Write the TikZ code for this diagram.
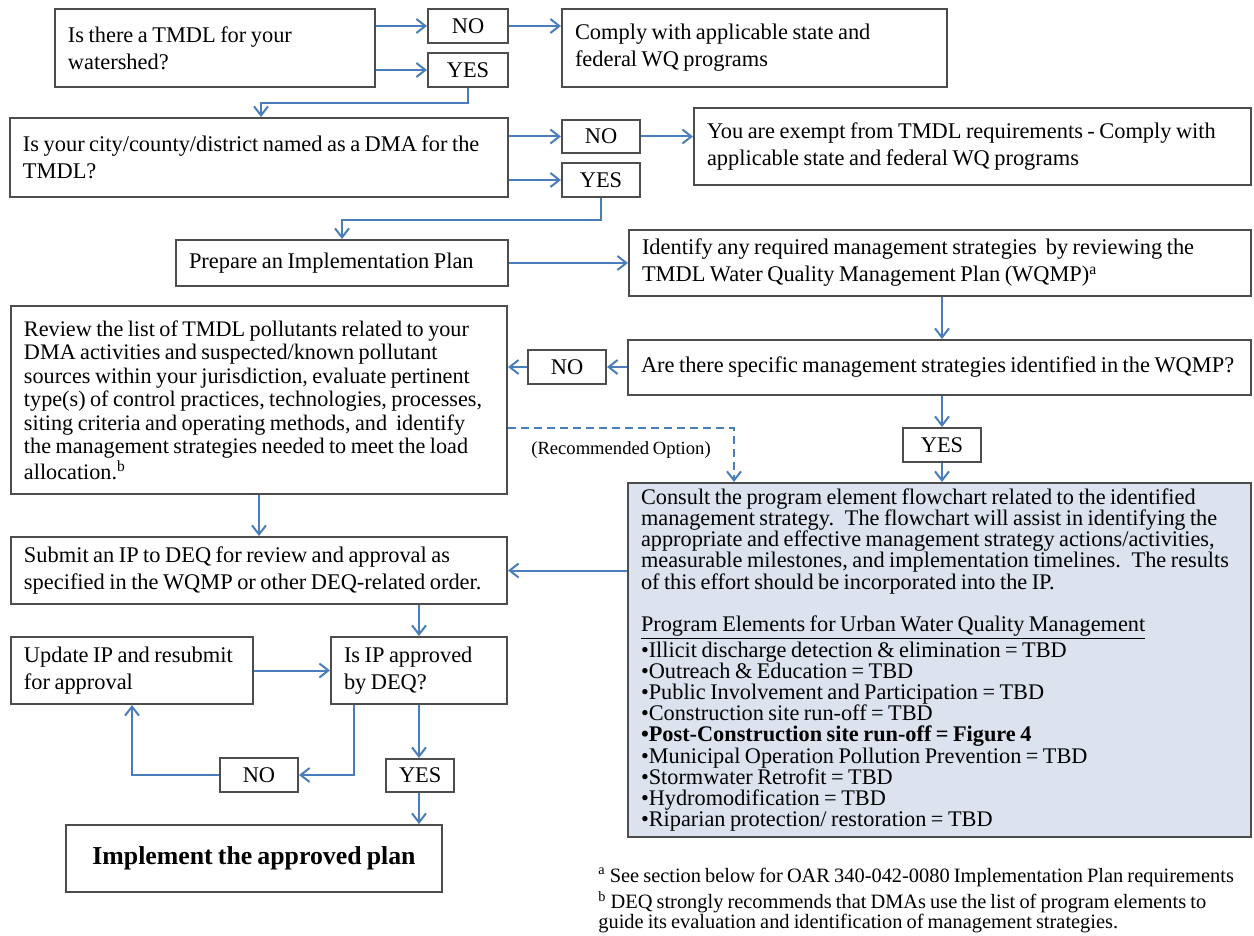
\documentclass[tikz,border=0pt]{standalone}
\usepackage{fontspec}
\setmainfont{Liberation Serif}[WordSpace=0.8]
\usetikzlibrary{arrows.meta}
\definecolor{arrowblue}{HTML}{4A7EBB}
\definecolor{boxgray}{HTML}{4D4D4D}
\definecolor{consultfill}{HTML}{DCE3EE}
\tikzset{
 fcbox/.style={draw=boxgray, line width=1pt, fill=white, inner xsep=6.5pt, inner ysep=0pt, align=flush left, font=\fontsize{11.2}{13.5}\selectfont},
 fctag/.style={align=flush center},
 fcarrow/.style={draw=arrowblue, line width=1pt, -{Straight Barb[length=4.5pt,width=7pt,line width=1pt]}},
 fcdash/.style={fcarrow, dash pattern=on 4pt off 2.5pt},
 fcnote/.style={inner sep=0pt, anchor=west, font=\fontsize{10.2}{12}\selectfont},
}
\newcommand\bx[7][]{%
  \pgfmathsetmacro\bw{(#5-#3)*0.5}%
  \pgfmathsetmacro\bh{(#6-#4)*0.5}%
  \pgfmathsetmacro\tw{(#5-#3)*0.5-13}%
  \node[fcbox,minimum width=\bw pt,minimum height=\bh pt,text width=\tw pt,#1] (#2) at ({(#3+#5)/2},{(#4+#6)/2}) {#7};}
\begin{document}
\begin{tikzpicture}[x=0.5pt,y=-0.5pt]
\fill[white] (0,0) rectangle (1254,936);
\useasboundingbox (0,0) rectangle (1254,936);
% boxes
\bx{b1}{55}{9}{375}{87}{Is there a TMDL for your\\watershed?}
\bx[fctag]{no1}{428}{9}{508}{43}{NO}
\bx[fctag]{yes1}{428}{53}{508}{87}{YES}
\bx{comply}{562}{9}{947}{87}{Comply with applicable state and\\federal WQ programs}
\bx{b2}{10}{118}{508}{197}{Is your city/county/district named as a DMA for the\\TMDL?}
\bx[fctag]{no2}{562}{120}{640}{153}{NO}
\bx[fctag]{yes2}{562}{163}{640}{197}{YES}
\bx{exempt}{694}{108}{1251}{185}{You are exempt from TMDL requirements - Comply with\\applicable state and federal WQ programs}
\bx{prep}{176}{240}{508}{286}{Prepare an Implementation Plan}
\bx{ident}{629}{230}{1251}{296}{Identify any required management strategies \ by reviewing the\\TMDL Water Quality Management Plan (WQMP)\textsuperscript{a}}
\bx[font=\fontsize{11.1}{11.75}\selectfont]{review}{11}{306}{507}{494}{Review the list of TMDL pollutants related to your\\DMA activities and suspected/known pollutant\\sources within your jurisdiction, evaluate pertinent\\type(s) of control practices, technologies, processes,\\siting criteria and operating methods, and \ identify\\the management strategies needed to meet the load\\allocation.\textsuperscript{b}}
\bx[fctag]{no3}{528}{350}{606}{384}{NO}
\bx{are}{628}{340}{1251}{395}{Are there specific management strategies identified in the WQMP?}
\bx[fctag]{yes3}{903}{428}{981}{462}{YES}
\bx[fill=consultfill,font=\fontsize{11.15}{10.55}\selectfont]{consult}{628}{483}{1251}{837}{Consult the program element flowchart related to the identified\\management strategy. \ The flowchart will assist in identifying the\\appropriate and effective management strategy actions/activities,\\measurable milestones, and implementation timelines. \ The results\\of this effort should be incorporated into the IP.\\~\\\underline{Program Elements for Urban Water Quality Management}\\•Illicit discharge detection \& elimination = TBD\\•Outreach \& Education = TBD\\•Public Involvement and Participation = TBD\\•Construction site run-off = TBD\\\textbf{•Post-Construction site run-off = Figure 4}\\•Municipal Operation Pollution Prevention = TBD\\•Stormwater Retrofit = TBD\\•Hydromodification = TBD\\•Riparian protection/ restoration = TBD}
\bx{submit}{11}{537}{507}{604}{Submit an IP to DEQ for review and approval as\\specified in the WQMP or other DEQ-related order.}
\bx{update}{11}{637}{253}{704}{Update IP and resubmit\\for approval}
\bx{isip}{331}{637}{507}{704}{Is IP approved\\by DEQ?}
\bx[fctag]{no4}{220}{758}{298}{792}{NO}
\bx[fctag]{yes4}{386}{759}{454}{792}{YES}
\bx[fctag,font=\fontsize{12.9}{15}\selectfont\bfseries]{impl}{66}{825}{442}{892}{Implement the approved plan}
\node[inner sep=0pt,font=\fontsize{9.3}{11}\selectfont] (rec) at (621,450) {(Recommended Option)};
\node[fcnote] (fn1) at (598,877) {\textsuperscript{a} See section below for OAR 340-042-0080 Implementation Plan requirements};
\node[fcnote] (fn2) at (598,902) {\textsuperscript{b} DEQ strongly recommends that DMAs use the list of program elements to};
\node[fcnote] (fn3) at (598,924) {guide its evaluation and identification of management strategies.};
% junctions
\coordinate (j1) at (261,103);
\coordinate (j2) at (342,220);
\coordinate (d1) at (734,428);
\coordinate (j5) at (354,775);
\coordinate (j6) at (132,775);
% connectors
\draw[fcarrow] (b1.east |- no1.west) -- (no1.west);
\draw[fcarrow] (b1.east |- yes1.west) -- (yes1.west);
\draw[fcarrow] (no1.east) -- (no1.east -| comply.west);
\draw[fcarrow] (yes1.south) |- (j1) -- (j1 |- b2.north);
\draw[fcarrow] (b2.east |- no2.west) -- (no2.west);
\draw[fcarrow] (b2.east |- yes2.west) -- (yes2.west);
\draw[fcarrow] (no2.east) -- (no2.east -| exempt.west);
\draw[fcarrow] (yes2.south) |- (j2) -- (j2 |- prep.north);
\draw[fcarrow] (prep.east) -- (prep.east -| ident.west);
\draw[fcarrow] (yes3 |- ident.south) -- (yes3 |- are.north);
\draw[fcarrow] (are.west |- no3.east) -- (no3.east);
\draw[fcarrow] (no3.west) -- (no3.west -| review.east);
\draw[fcarrow] (yes3 |- are.south) -- (yes3.north);
\draw[fcarrow] (yes3.south) -- (yes3.south |- consult.north);
\draw[fcdash] (review.east |- d1) -- (d1) -- (d1 |- consult.north);
\draw[fcarrow] (review.south) -- (review.south |- submit.north);
\draw[fcarrow] (consult.west |- submit.east) -- (submit.east);
\draw[fcarrow] (isip.north |- submit.south) -- (isip.north);
\draw[fcarrow] (update.east) -- (isip.west);
\draw[fcarrow] (j5 |- isip.south) -- (j5) -- (no4.east);
\draw[fcarrow] (no4.west) -- (j6) -- (j6 |- update.south);
\draw[fcarrow] (isip.south) -- (isip.south |- yes4.north);
\draw[fcarrow] (yes4.south -| isip.south) -- (isip.south |- impl.north);
\end{tikzpicture}
\end{document}
